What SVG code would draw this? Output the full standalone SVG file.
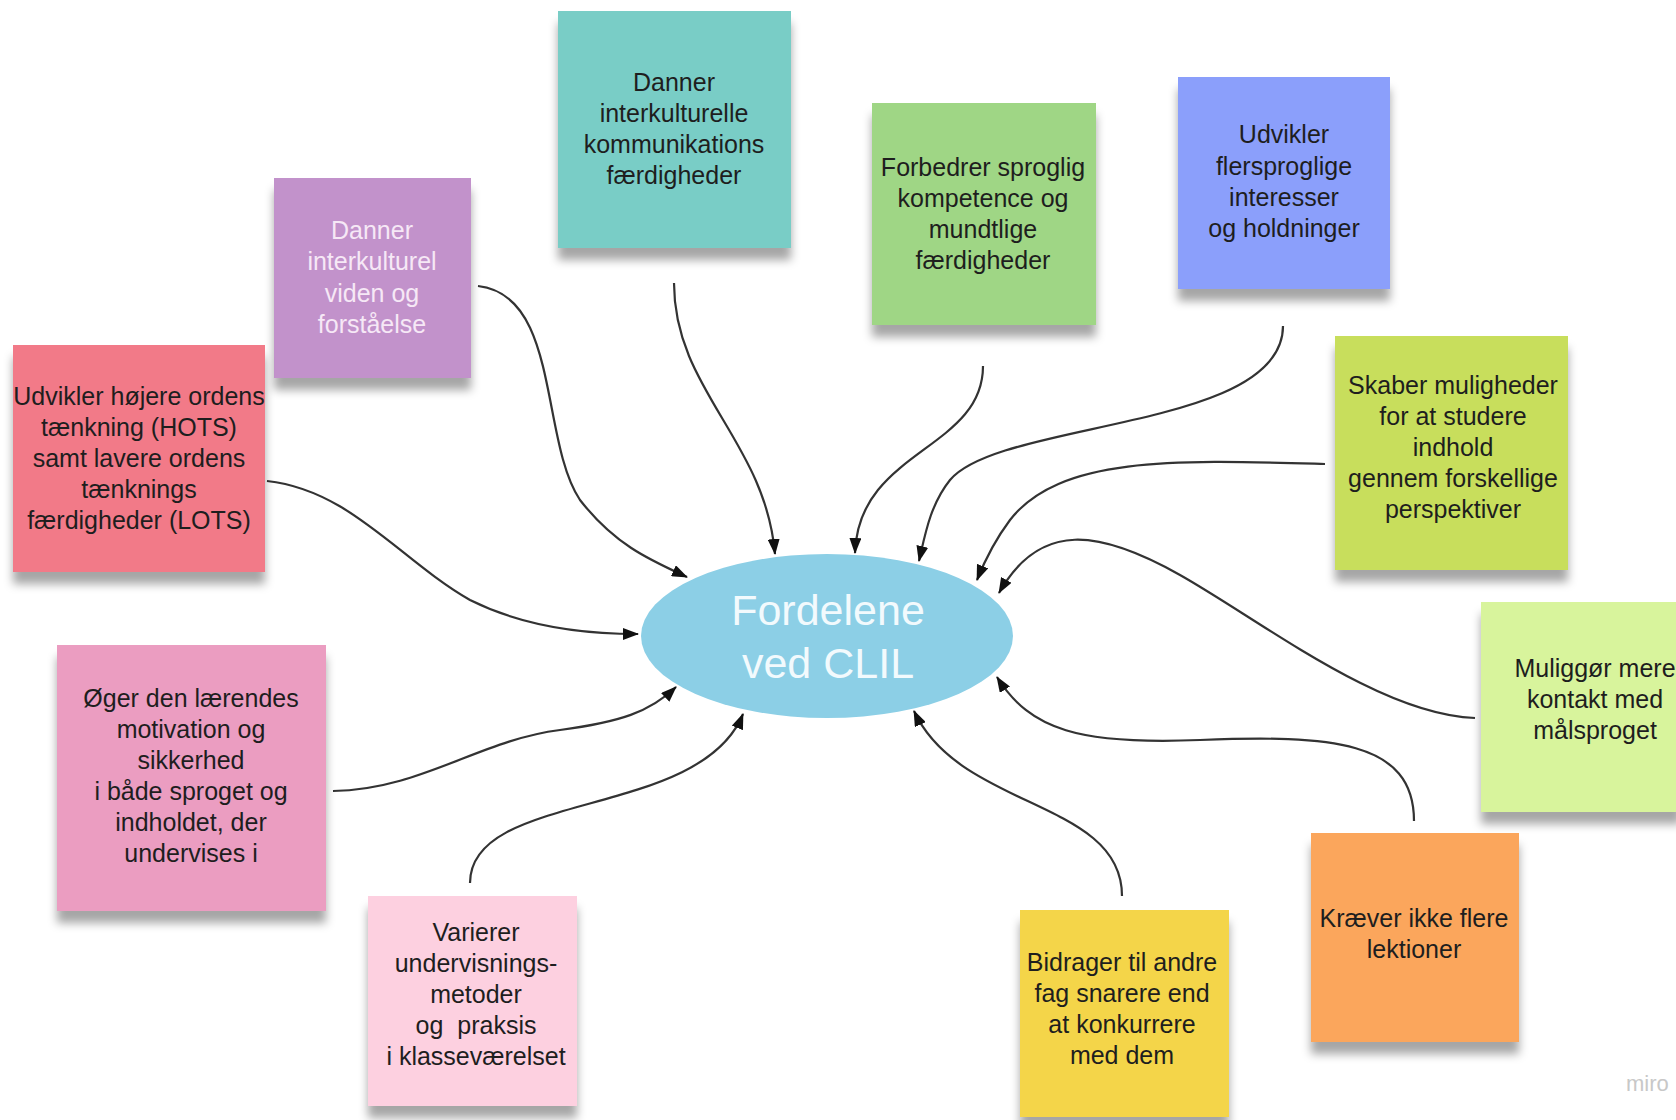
<svg xmlns="http://www.w3.org/2000/svg" width="1676" height="1120" viewBox="0 0 1676 1120">
<style>
.note-text{font-family:"Liberation Sans",Arial,sans-serif;font-size:25px;fill:#1e1e1e;text-anchor:middle}
.light{fill:#f6e8f6}
.conn{fill:none;stroke:#333;stroke-width:2.2}
.center-text{font-family:"Liberation Sans",Arial,sans-serif;font-size:43px;fill:#f2fafd;text-anchor:middle}
</style>
<defs>
<filter id="sh" x="-20%" y="-20%" width="140%" height="150%">
<feDropShadow dx="0" dy="12" stdDeviation="5" flood-color="#000" flood-opacity="0.35"/>
</filter>
<marker id="arr" viewBox="0 0 16 12" refX="15" refY="6" markerWidth="16" markerHeight="12" markerUnits="userSpaceOnUse" orient="auto">
<path d="M0,0 L16,6 L0,12 Z" fill="#111"/>
</marker>
</defs>
<rect width="1676" height="1120" fill="#fff"/>

<g id="connectors">
<path class="conn" marker-end="url(#arr)" d="M478,286 C560,295 540,440 580,500 C615,545 650,560 687,577"/>
<path class="conn" marker-end="url(#arr)" d="M674,283 C674,390 765,440 775,554"/>
<path class="conn" marker-end="url(#arr)" d="M983,366 C983,450 858,450 855,553"/>
<path class="conn" marker-end="url(#arr)" d="M1283,326 C1283,430 1000,420 950,480 C930,505 925,535 919,561"/>
<path class="conn" marker-end="url(#arr)" d="M1325,464 C1180,460 1060,455 1010,520 C995,540 985,560 977,580"/>
<path class="conn" marker-end="url(#arr)" d="M1475,718 C1380,715 1260,620 1180,575 C1100,530 1040,520 999,593"/>
<path class="conn" marker-end="url(#arr)" d="M1414,821 C1414,740 1330,735 1200,740 C1080,745 1030,730 997,677"/>
<path class="conn" marker-end="url(#arr)" d="M1122,896 C1122,800 960,810 914,711"/>
<path class="conn" marker-end="url(#arr)" d="M470,883 C470,790 700,820 743,714"/>
<path class="conn" marker-end="url(#arr)" d="M333,791 C420,790 480,740 560,730 C620,722 650,712 676,687"/>
<path class="conn" marker-end="url(#arr)" d="M267,481 C350,490 400,560 470,600 C530,630 600,634 638,634"/>
</g>

<g id="center">
<ellipse cx="827" cy="636" rx="186" ry="82" fill="#8ccfe6"/>
<text class="center-text"><tspan x="828" y="625">Fordelene</tspan><tspan x="828" y="678">ved CLIL</tspan></text>
</g>

<g id="n-teal">
<rect x="558" y="11" width="233" height="237" fill="#79cdc6" filter="url(#sh)"/>
<text class="note-text"><tspan x="674" y="91">Danner</tspan><tspan x="674" y="122">interkulturelle</tspan><tspan x="674" y="153">kommunikations</tspan><tspan x="674" y="184">færdigheder</tspan></text>
</g>

<g id="n-purple">
<rect x="274" y="178" width="197" height="200" fill="#c292cb" filter="url(#sh)"/>
<text class="note-text light"><tspan x="372" y="239">Danner</tspan><tspan x="372" y="270">interkulturel</tspan><tspan x="372" y="302">viden og</tspan><tspan x="372" y="333">forståelse</tspan></text>
</g>

<g id="n-red">
<rect x="13" y="345" width="252" height="227" fill="#f27a88" filter="url(#sh)"/>
<text class="note-text"><tspan x="139" y="405">Udvikler højere ordens</tspan><tspan x="139" y="436">tænkning (HOTS)</tspan><tspan x="139" y="467">samt lavere ordens</tspan><tspan x="139" y="498">tænknings</tspan><tspan x="139" y="529">færdigheder (LOTS)</tspan></text>
</g>

<g id="n-green">
<rect x="872" y="103" width="224" height="222" fill="#9fd685" filter="url(#sh)"/>
<text class="note-text"><tspan x="983" y="176">Forbedrer sproglig</tspan><tspan x="983" y="207">kompetence og</tspan><tspan x="983" y="238">mundtlige</tspan><tspan x="983" y="269">færdigheder</tspan></text>
</g>

<g id="n-blue">
<rect x="1178" y="77" width="212" height="212" fill="#8b9ffb" filter="url(#sh)"/>
<text class="note-text"><tspan x="1284" y="143">Udvikler</tspan><tspan x="1284" y="175">flersproglige</tspan><tspan x="1284" y="206">interesser</tspan><tspan x="1284" y="237">og holdninger</tspan></text>
</g>

<g id="n-lime">
<rect x="1335" y="336" width="233" height="234" fill="#c8de5b" filter="url(#sh)"/>
<text class="note-text"><tspan x="1453" y="394">Skaber muligheder</tspan><tspan x="1453" y="425">for at studere</tspan><tspan x="1453" y="456">indhold</tspan><tspan x="1453" y="487">gennem forskellige</tspan><tspan x="1453" y="518">perspektiver</tspan></text>
</g>

<g id="n-lightgreen">
<rect x="1481" y="602" width="200" height="210" fill="#d8f49c" filter="url(#sh)"/>
<text class="note-text"><tspan x="1595" y="677">Muliggør mere</tspan><tspan x="1595" y="708">kontakt med</tspan><tspan x="1595" y="739">målsproget</tspan></text>
</g>

<g id="n-pink">
<rect x="57" y="645" width="269" height="266" fill="#eb9dc1" filter="url(#sh)"/>
<text class="note-text"><tspan x="191" y="707">Øger den lærendes</tspan><tspan x="191" y="738">motivation og</tspan><tspan x="191" y="769">sikkerhed</tspan><tspan x="191" y="800">i både sproget og</tspan><tspan x="191" y="831">indholdet, der</tspan><tspan x="191" y="862">undervises i</tspan></text>
</g>

<g id="n-lightpink">
<rect x="368" y="896" width="209" height="210" fill="#fdd0e0" filter="url(#sh)"/>
<text class="note-text"><tspan x="476" y="941">Varierer</tspan><tspan x="476" y="972">undervisnings-</tspan><tspan x="476" y="1003">metoder</tspan><tspan x="476" y="1034" xml:space="preserve">og  praksis</tspan><tspan x="476" y="1065">i klasseværelset</tspan></text>
</g>

<g id="n-yellow">
<rect x="1020" y="910" width="209" height="207" fill="#f4d548" filter="url(#sh)"/>
<text class="note-text"><tspan x="1122" y="971">Bidrager til andre</tspan><tspan x="1122" y="1002">fag snarere end</tspan><tspan x="1122" y="1033">at konkurrere</tspan><tspan x="1122" y="1064">med dem</tspan></text>
</g>

<g id="n-orange">
<rect x="1311" y="833" width="208" height="209" fill="#fba65c" filter="url(#sh)"/>
<text class="note-text"><tspan x="1414" y="927">Kræver ikke flere</tspan><tspan x="1414" y="958">lektioner</tspan></text>
</g>

<text x="1626" y="1091" font-family="Liberation Sans, Arial, sans-serif" font-size="22" fill="#c8c8c8">miro</text>
</svg>
